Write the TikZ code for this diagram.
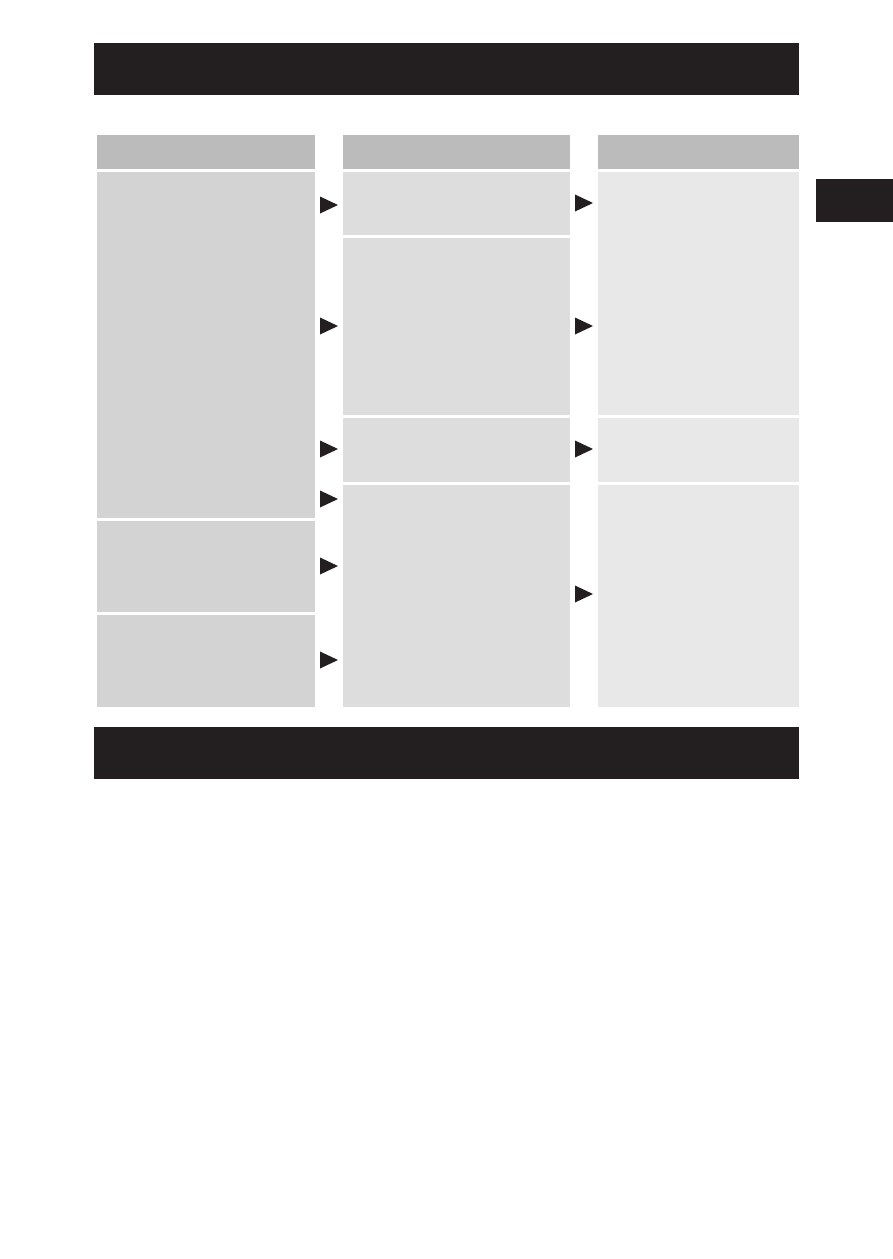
\documentclass[tikz,border=0pt]{standalone}
\definecolor{ink}{HTML}{231F20}
\definecolor{hdr}{HTML}{BBBBBB}
\definecolor{colA}{HTML}{D3D3D3}
\definecolor{colB}{HTML}{DDDDDD}
\definecolor{colC}{HTML}{E8E8E8}
\newcommand\pbox[6]{%
  \pgfmathsetmacro\bw{#4-#2}\pgfmathsetmacro\bh{#5-#3}%
  \node[panel,fill=#6,minimum width=\bw pt,minimum height=\bh pt] (#1) at ({(#2+#4)/2},{(#3+#5)/2}) {};}
\begin{document}
\begin{tikzpicture}[x=1pt,y=-1pt,
  panel/.style={draw=none,inner sep=0pt,outer sep=0pt,rectangle},
  arr/.pic={\fill[ink] (0,-8.5) -- (18,0) -- (0,8.5) -- cycle;}]
\useasboundingbox[fill=white] (0,0) rectangle (893,1259);
% black bars
\pbox{topbar}{94}{43}{799}{95}{ink}
\pbox{botbar}{94}{727}{799}{779}{ink}
\pbox{tab}{816}{179}{893}{222}{ink}
% headers
\pbox{hA}{97}{135}{315}{169}{hdr}
\pbox{hB}{343}{135}{570}{169}{hdr}
\pbox{hC}{598}{135}{799}{169}{hdr}
% left column
\pbox{a1}{97}{172}{315}{518}{colA}
\pbox{a2}{97}{521}{315}{612}{colA}
\pbox{a3}{97}{615}{315}{707}{colA}
% middle column
\pbox{b1}{343}{172}{570}{235}{colB}
\pbox{b2}{343}{238}{570}{415}{colB}
\pbox{b3}{343}{418}{570}{482}{colB}
\pbox{b4}{343}{485}{570}{707}{colB}
% right column
\pbox{c1}{598}{172}{799}{415}{colC}
\pbox{c2}{598}{418}{799}{482}{colC}
\pbox{c3}{598}{485}{799}{707}{colC}
% arrows
\foreach \yy in {205,326,449,499,566,660} \pic at (320,\yy) {arr};
\foreach \yy in {203,326,449,594} \pic at (575,\yy) {arr};
\end{tikzpicture}
\end{document}
